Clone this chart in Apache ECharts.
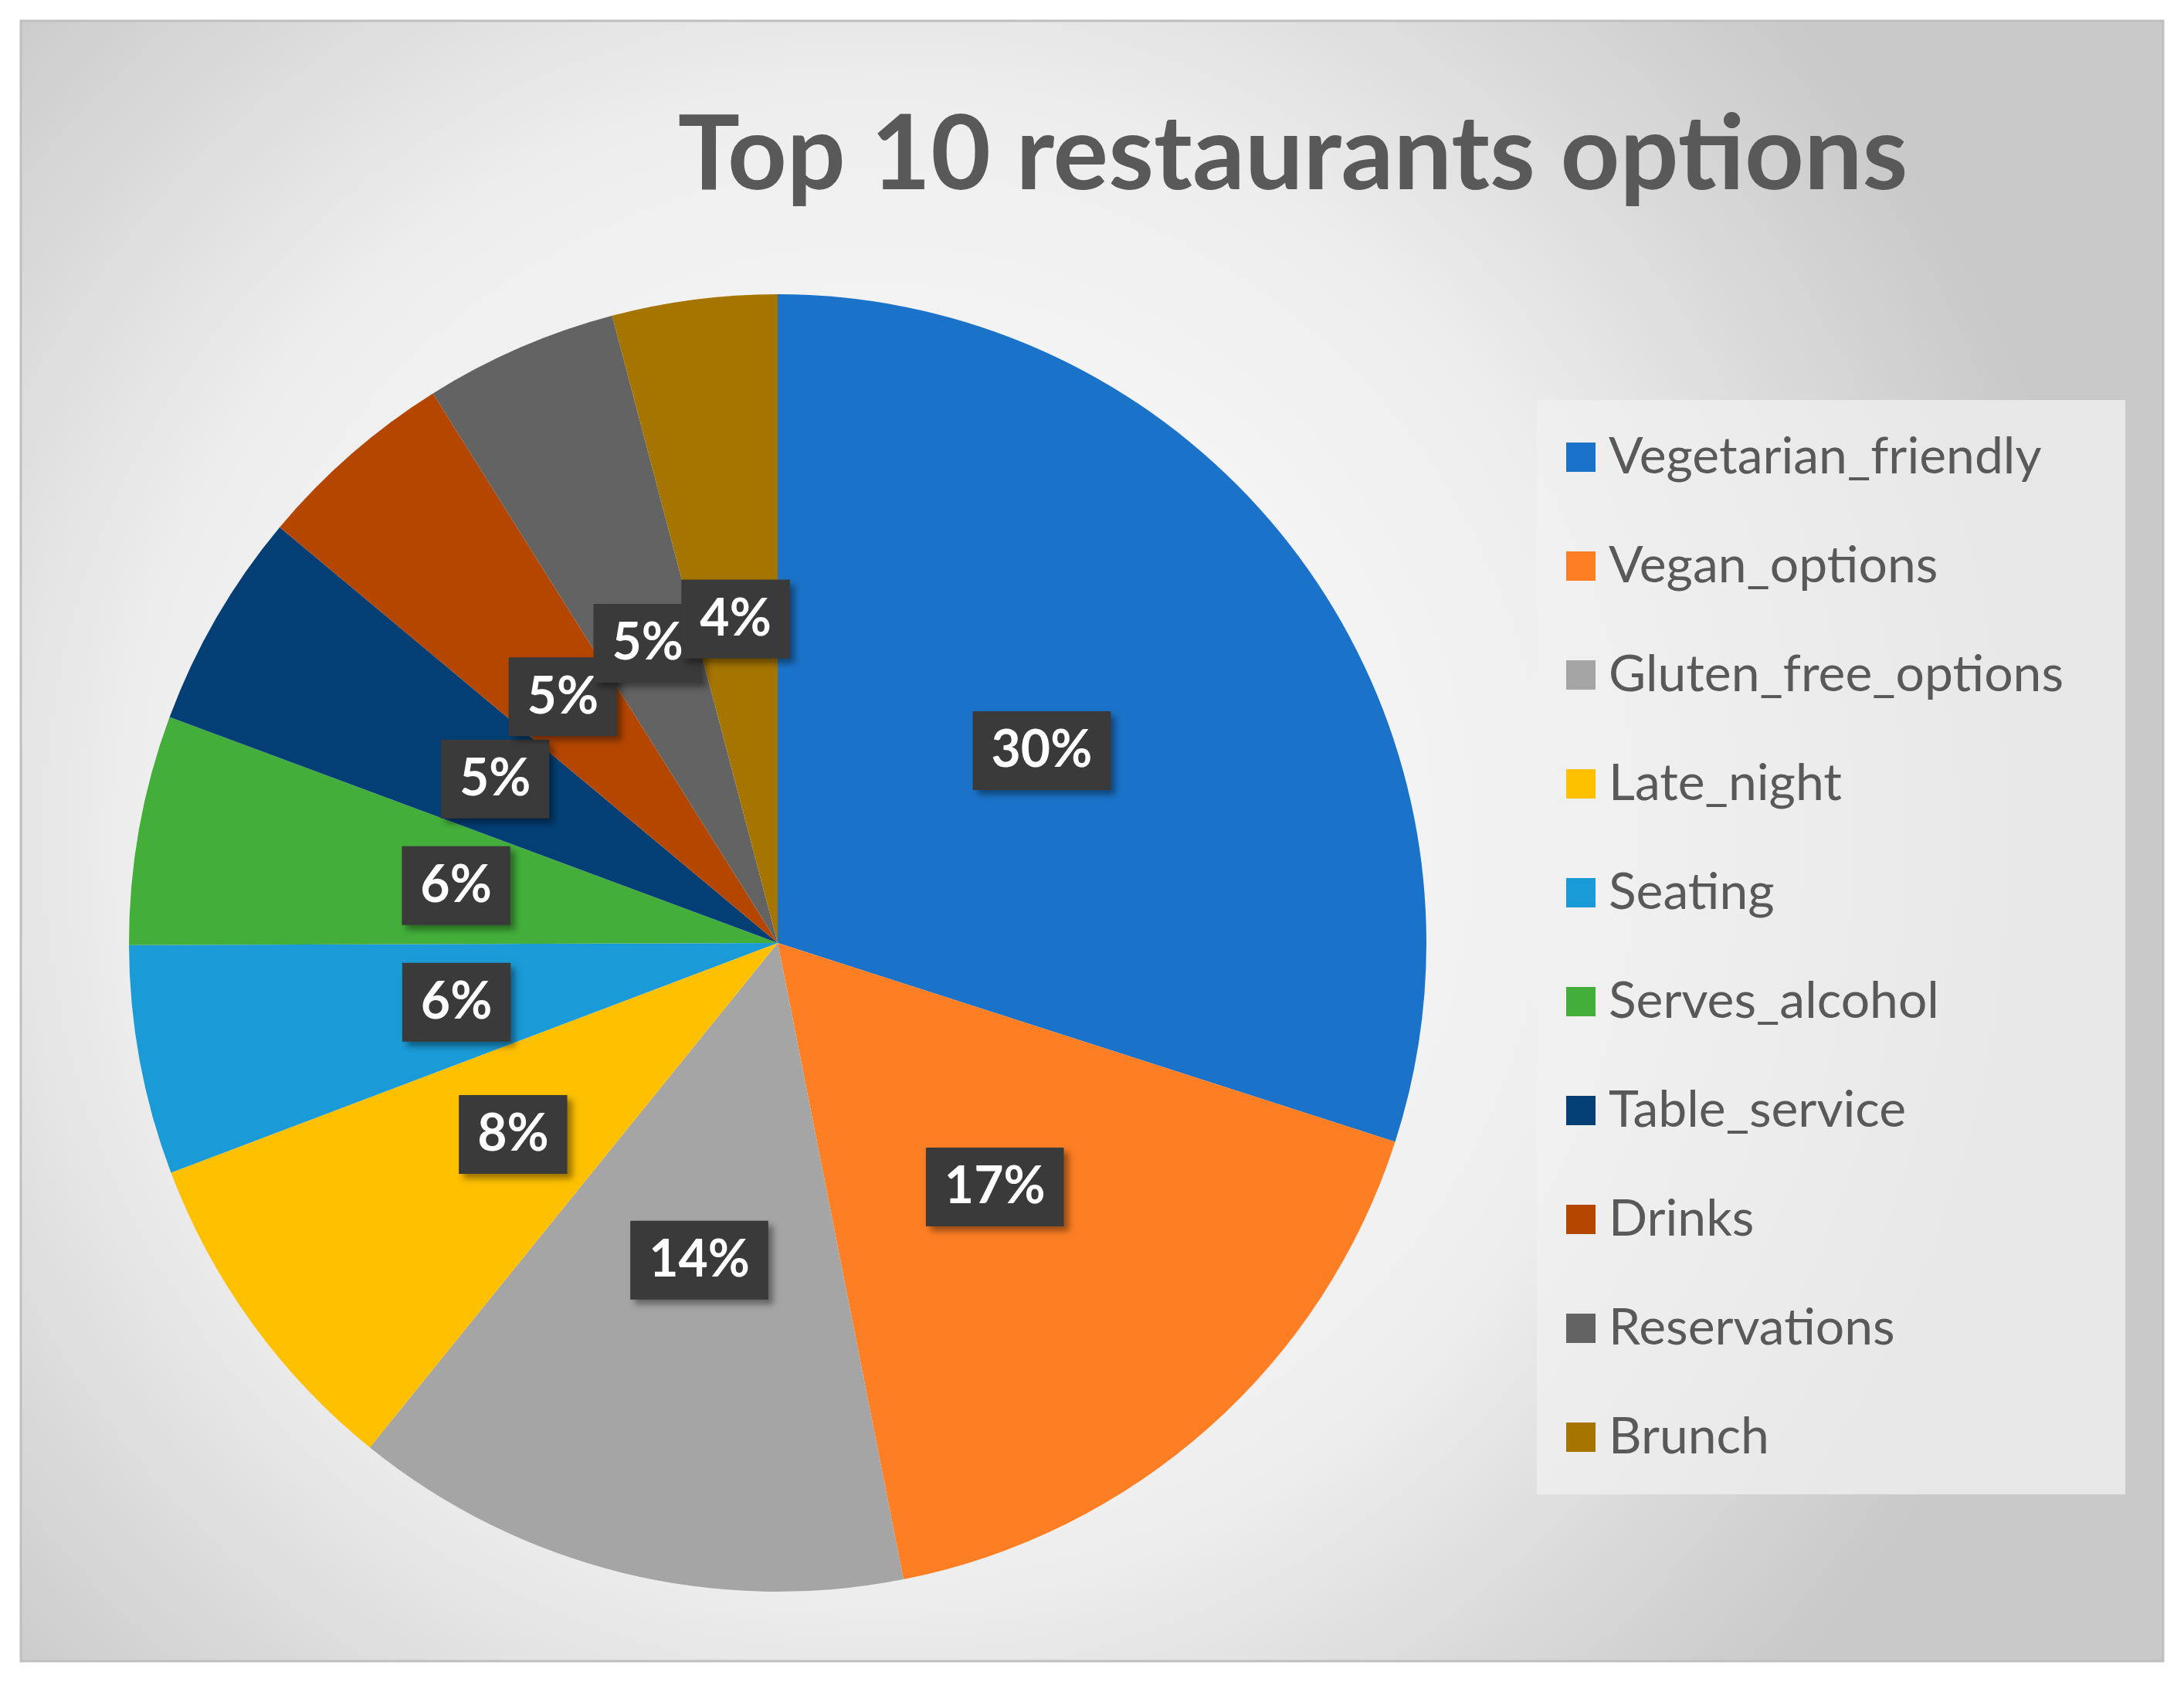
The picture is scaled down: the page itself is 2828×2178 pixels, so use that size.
<!DOCTYPE html>
<html><head><meta charset="utf-8">
<script src="https://cdn.jsdelivr.net/npm/echarts@6/dist/echarts.min.js"></script>
<style>html,body{margin:0;padding:0;background:#fff}#c{width:2828px;height:2178px}</style>
</head><body><div id="c"></div>
<script>
const categories = ['Vegetarian_friendly','Vegan_options','Gluten_free_options','Late_night','Seating','Serves_alcohol','Table_service','Drinks','Reservations','Brunch'];
const values = [29.9,16.9,13.9,8.4,5.7,5.7,5.4,5.0,4.8,4.1];
const colors = ['#1A73C9','#FD7E23','#A5A5A5','#FFC000','#1A9BD7','#43AF3A','#033F75','#B54600','#636363','#A67500'];
const chart = echarts.init(document.getElementById('c'));
chart.setOption({
  animation:false,
  color:colors,
  graphic:[{type:'rect',z:-10,shape:{x:27,y:27,width:2774,height:2124},
    style:{fill:new echarts.graphic.RadialGradient(0.4,0.5,0.75,[{offset:0,color:'#ffffff'},{offset:0.6,color:'#eeeeee'},{offset:1,color:'#c9c9c9'}]),stroke:'#bfbfbf',lineWidth:3}}],
  title:{text:'Top 10 restaurants options',left:1669,top:130,textAlign:'center',
    textStyle:{fontFamily:'Lato',fontSize:134,fontWeight:'bold',color:'#595959'}},
  legend:{orient:'vertical',left:1990,top:518,width:700,padding:[36,80,36,38],
    backgroundColor:'rgba(240,240,240,0.75)',itemWidth:38,itemHeight:38,itemGap:65,icon:'rect',
    textStyle:{fontFamily:'Lato',fontSize:66,lineHeight:76,color:'#595959',padding:[0,0,0,12]},data:categories},
  series:[{type:'pie',center:[1007,1221],radius:[0,840],startAngle:90,clockwise:true,avoidLabelOverlap:false,
    data:categories.map((n,i)=>({name:n,value:values[i]})),
    label:{position:'inner',formatter:p=>Math.round(p.percent)+'%',fontFamily:'Lato',fontSize:66,fontWeight:'bold',
      color:'#fff',backgroundColor:'#3a3a3a',padding:[22,24,14,24],
      shadowColor:'rgba(0,0,0,0.4)',shadowBlur:8,shadowOffsetX:6,shadowOffsetY:6},
    labelLayout:{hideOverlap:false},
    labelLine:{show:false},itemStyle:{borderWidth:0}}]
});
</script></body></html>
